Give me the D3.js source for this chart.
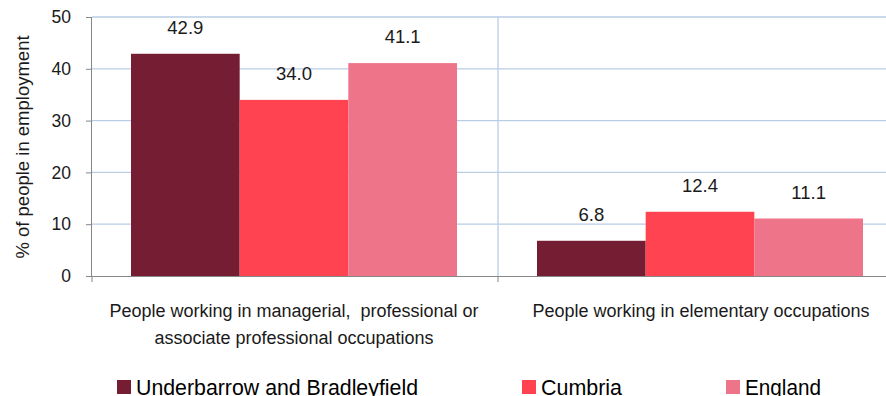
<!DOCTYPE html>
<html><head><meta charset="utf-8">
<script src="https://cdn.jsdelivr.net/npm/d3@7"></script>
<style>body{margin:0;background:#fff}svg{display:block;font-family:"Liberation Sans",Arial,sans-serif}</style>
</head><body><svg id="c" width="886" height="396"></svg>
<script>
const categories = [
  ["People working in managerial,  professional or", "associate professional occupations"],
  ["People working in elementary occupations"]
];
const seriesNames = ["Underbarrow and Bradleyfield", "Cumbria", "England"];
const seriesColors = ["#741d33", "#ff4350", "#ee7489"];
const values = [
  [42.9, 6.8],
  [34.0, 12.4],
  [41.1, 11.1]
];
const yTicks = [0, 10, 20, 30, 40, 50];

(function(){
const svg = d3.select("#c");
const mLeft = 92, mTop = 17, mBottom = 276, mRight = 904;
const x = d3.scaleBand().domain(d3.range(categories.length)).range([mLeft, mRight]).paddingInner(0).paddingOuter(0);
const y = d3.scaleLinear().domain([0, 50]).range([mBottom, mTop]);
const inner = d3.scaleBand().domain(d3.range(seriesNames.length)).range([39, x.bandwidth() - 41]);

svg.append("g").selectAll("line").data(yTicks.filter(d => d > 0)).join("line")
  .attr("x1", mLeft).attr("x2", mRight).attr("y1", d => y(d)).attr("y2", d => y(d))
  .attr("stroke", "#b9cde5").attr("stroke-width", 1.3);
svg.append("g").selectAll("line").data(d3.range(1, categories.length)).join("line")
  .attr("x1", d => x(d)).attr("x2", d => x(d)).attr("y1", mTop).attr("y2", mBottom)
  .attr("stroke", "#b9cde5").attr("stroke-width", 1.3);

seriesNames.forEach((s, si) => {
  svg.append("g").selectAll("rect").data(values[si]).join("rect")
    .attr("x", (d, i) => x(i) + inner(si)).attr("width", inner.bandwidth())
    .attr("y", d => y(d)).attr("height", d => y(0) - y(d))
    .attr("fill", seriesColors[si]);
  svg.append("g").selectAll("text").data(values[si]).join("text")
    .attr("x", (d, i) => x(i) + inner(si) + inner.bandwidth() / 2)
    .attr("y", d => y(d) - 20)
    .attr("text-anchor", "middle").attr("font-size", 18.5).attr("fill", "#1a1a1a")
    .text(d => d.toFixed(1));
});

const ya = svg.append("g").attr("transform", `translate(${mLeft},0)`)
  .call(d3.axisLeft(y).tickValues(yTicks).tickSize(6).tickPadding(15).tickFormat(d3.format("d")));
ya.select(".domain").attr("stroke", "#868686").attr("d", `M-0.5,${mTop}V${mBottom}`);
ya.selectAll(".tick line").attr("stroke", "#868686");
ya.selectAll(".tick text").attr("font-size", 17.5).attr("fill", "#1a1a1a").attr("font-family", "Liberation Sans, Arial");

svg.append("line").attr("x1", mLeft).attr("x2", mRight).attr("y1", mBottom + 0.5).attr("y2", mBottom + 0.5).attr("stroke", "#868686");
svg.append("g").selectAll("line").data(d3.range(categories.length + 1)).join("line")
  .attr("x1", d => d < categories.length ? x(d) : mRight).attr("x2", d => d < categories.length ? x(d) : mRight)
  .attr("y1", mBottom).attr("y2", mBottom + 6).attr("stroke", "#868686");

categories.forEach((lines, i) => {
  lines.forEach((t, li) => {
    svg.append("text").attr("x", x(i) + x.bandwidth() / 2 + (i === 0 ? -1 : 0)).attr("y", 317 + li * 27)
      .attr("text-anchor", "middle").attr("font-size", 18).attr("fill", "#1a1a1a")
      .style("white-space", "pre").text(t);
  });
});

svg.append("text").attr("transform", "translate(29,147) rotate(-90)")
  .attr("text-anchor", "middle").attr("font-size", 18.5).attr("fill", "#1a1a1a")
  .text("% of people in employment");

const legX = [117, 522, 726];
const legW = [282, 81, 76];
seriesNames.forEach((s, i) => {
  svg.append("rect").attr("x", legX[i]).attr("y", 380).attr("width", 14).attr("height", 14).attr("fill", seriesColors[i]);
  svg.append("text").attr("x", legX[i] + (i === 0 ? 19 : 19)).attr("y", 394.5).attr("font-size", 22)
    .attr("fill", "#000")
    .attr("textLength", legW[i]).attr("lengthAdjust", "spacingAndGlyphs").text(s);
});
})();
</script></body></html>
